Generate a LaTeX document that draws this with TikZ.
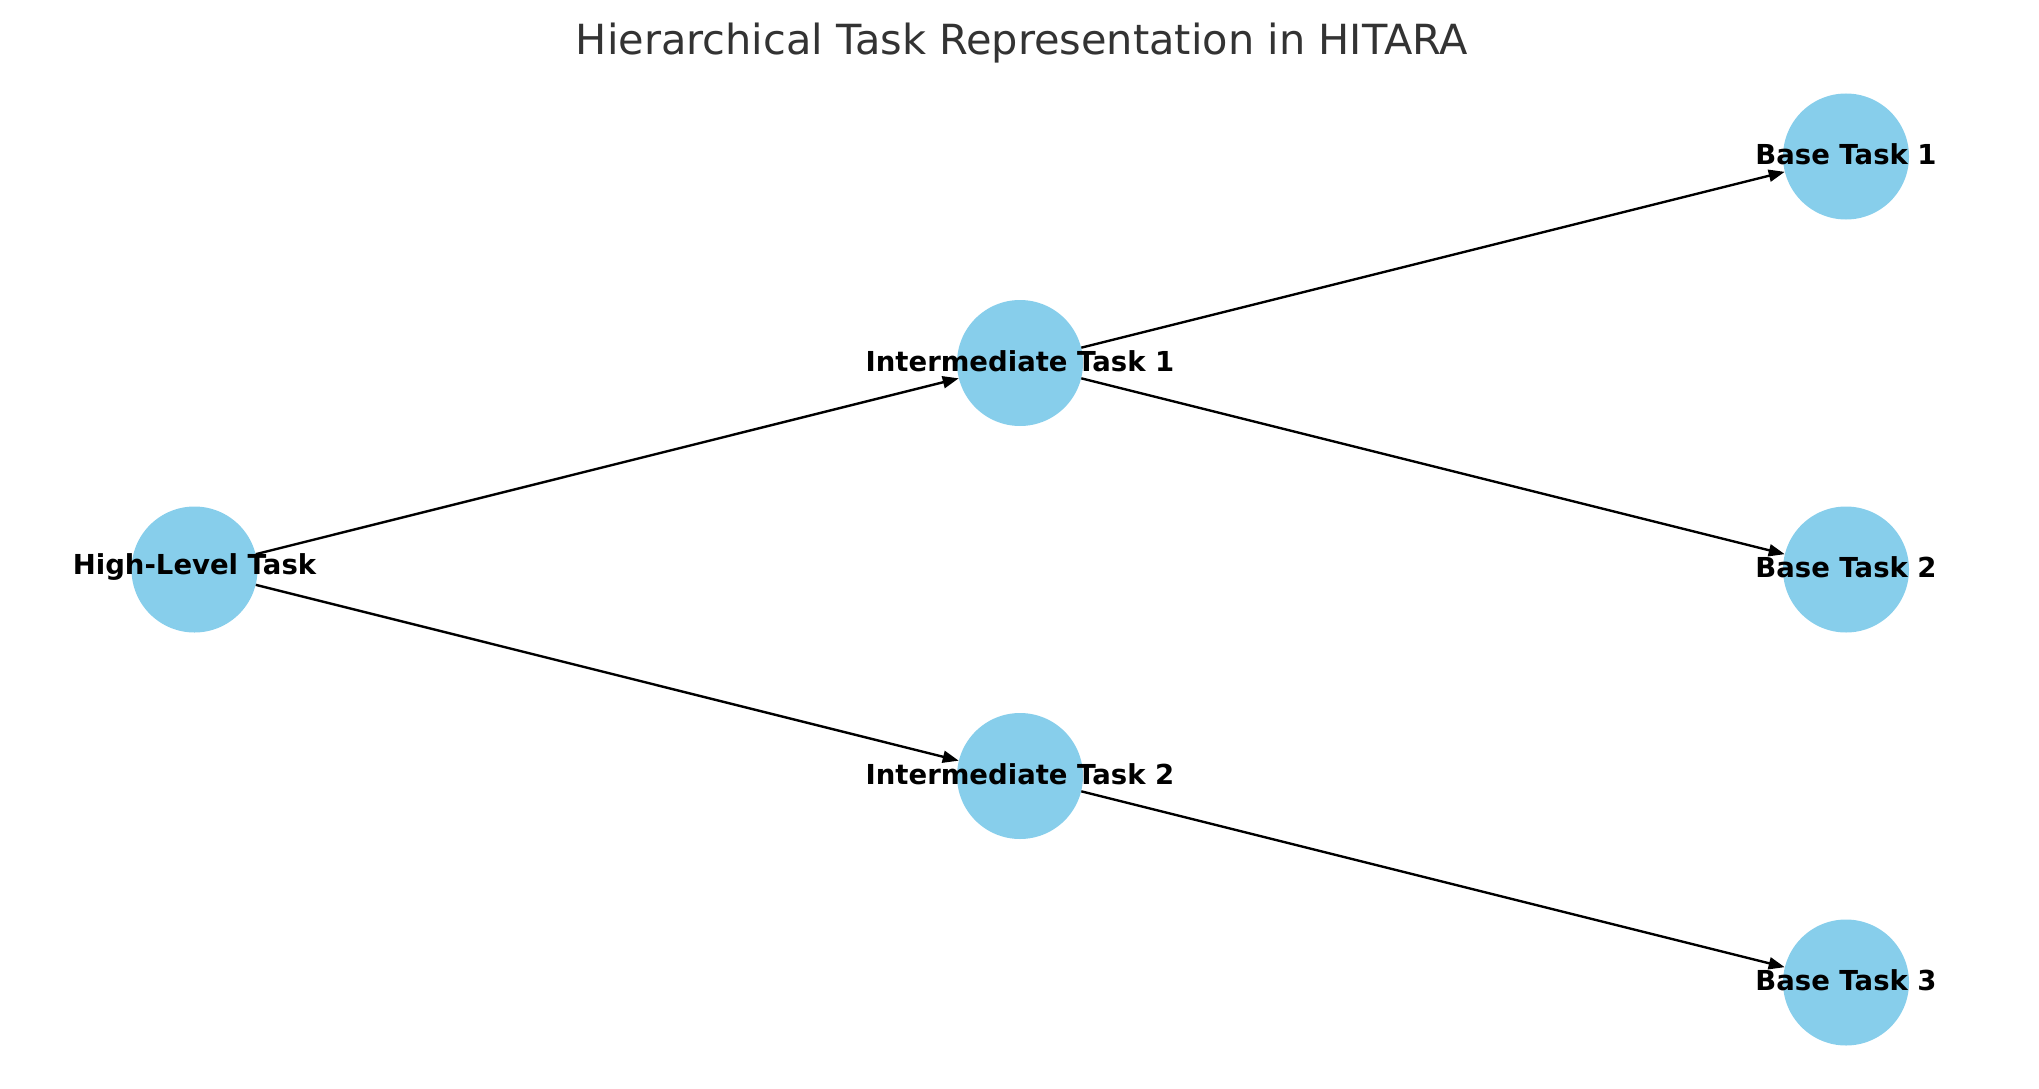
\documentclass[tikz,border=0pt]{standalone}
\usepackage{fontspec}
\setmainfont{DejaVu Sans}
\usetikzlibrary{arrows.meta}
\definecolor{sky}{HTML}{87CEEB}
\definecolor{titlegray}{HTML}{333333}
\tikzset{
  taskcircle/.style={circle, fill=sky, draw=none, minimum size=126pt, inner sep=0pt},
  tasklabel/.style={font=\fontsize{27.5}{30}\selectfont\bfseries, text=black, inner sep=0pt, yshift=2pt},
  edge/.style={draw=black, line width=2.4pt, -{Triangle[length=16pt,width=12pt]}},
}
\begin{document}
\begin{tikzpicture}[x=1pt,y=-1pt]
\useasboundingbox (0,0) rectangle (2039,1089);
\node[anchor=base, text=titlegray, font=\fontsize{41.5}{46}\selectfont, inner sep=0pt] (title) at (1022,55) {Hierarchical Task Representation in HITARA};
\node[taskcircle] (h) at (194.5,569.5) {};
\node[taskcircle] (i1) at (1020,363) {};
\node[taskcircle] (i2) at (1020,776) {};
\node[taskcircle] (b1) at (1846,156.5) {};
\node[taskcircle] (b2) at (1846,569.5) {};
\node[taskcircle] (b3) at (1846,982.5) {};
\draw[edge] (h) -- (i1);
\draw[edge] (h) -- (i2);
\draw[edge] (i1) -- (b1);
\draw[edge] (i1) -- (b2);
\draw[edge] (i2) -- (b3);
\node[tasklabel] (lh) at (h.center) {High-Level Task};
\node[tasklabel] (li1) at (i1.center) {Intermediate Task 1};
\node[tasklabel] (li2) at (i2.center) {Intermediate Task 2};
\node[tasklabel] (lb1) at (b1.center) {Base Task 1};
\node[tasklabel] (lb2) at (b2.center) {Base Task 2};
\node[tasklabel] (lb3) at (b3.center) {Base Task 3};
\end{tikzpicture}
\end{document}
